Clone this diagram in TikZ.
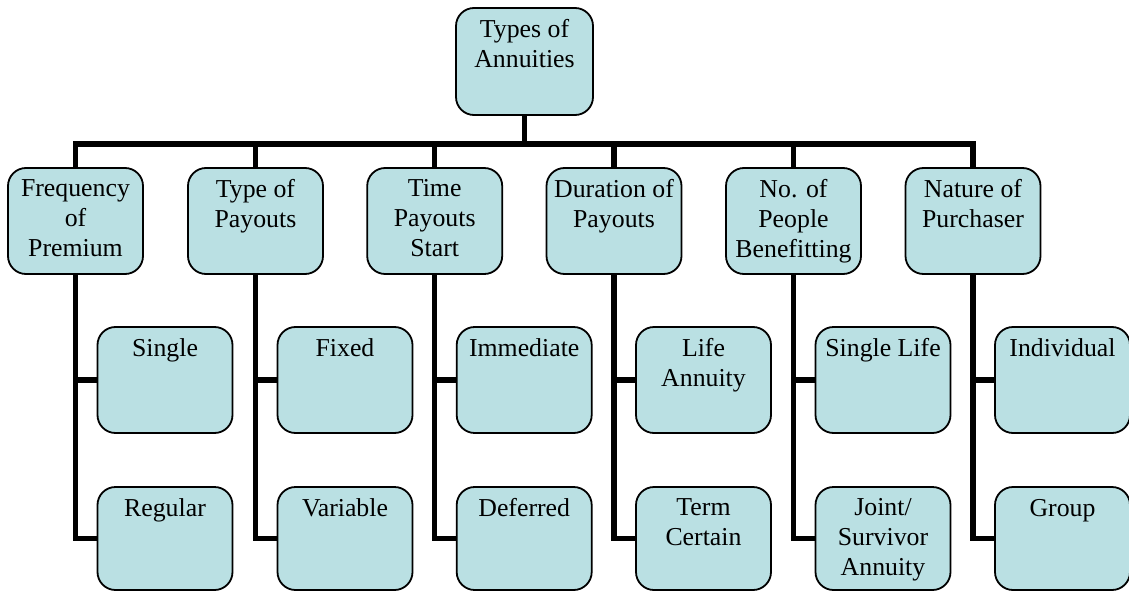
\documentclass[tikz,border=0pt]{standalone}
\usepackage{fontspec}
\setmainfont{Liberation Serif}
\usetikzlibrary{backgrounds}
\definecolor{boxfill}{RGB}{186,224,227}
\begin{document}
\begin{tikzpicture}[x=1pt,y=-1pt,
  box/.style={draw=black, line width=1.8pt, fill=boxfill, rounded corners=18pt,
    minimum width=135pt, minimum height=106pt, inner sep=0pt},
  lowbox/.style={box, minimum height=103pt},
  lbl/.style={anchor=north, align=center, inner sep=0pt,
    font=\fontsize{25.8}{30}\selectfont, execute at begin node={\rule{0pt}{18pt}}},
  conn/.style={line width=5.5pt}]
\useasboundingbox (0,0) rectangle (1129,591);

% root
\node[box, minimum width=137pt, minimum height=107pt] (root) at (524.5,61.5) {};
\node[lbl] (roott) at ([yshift=-12pt]root.north) {Types of\\Annuities};
\coordinate (bus) at (524.5,144);

% level 1
\node[box] (a) at (75.5,221) {};
\node[box] (b) at (255.5,221) {};
\node[box] (c) at (434.7,221) {};
\node[box] (d) at (614,221) {};
\node[box] (e) at (793.5,221) {};
\node[box] (f) at (973,221) {};
\node[lbl] (at) at ([yshift=-12pt]a.north) {Frequency\\of\\Premium};
\node[lbl] (bt) at ([yshift=-12pt]b.north) {Type of\\Payouts};
\node[lbl] (ct) at ([yshift=-12pt]c.north) {Time\\Payouts\\Start};
\node[lbl] (dt) at ([yshift=-12pt]d.north) {Duration of\\Payouts};
\node[lbl] (et) at ([yshift=-12pt]e.north) {No. of\\People\\Benefitting};
\node[lbl] (ft) at ([yshift=-12pt]f.north) {Nature of\\Purchaser};

% level 2
\node[box] (a1) at (165,380) {};
\node[lowbox] (a2) at (165,538.5) {};
\node[box] (b1) at (345,380) {};
\node[lowbox] (b2) at (345,538.5) {};
\node[box] (c1) at (524.2,380) {};
\node[lowbox] (c2) at (524.2,538.5) {};
\node[box] (d1) at (703.5,380) {};
\node[lowbox] (d2) at (703.5,538.5) {};
\node[box] (e1) at (883,380) {};
\node[lowbox] (e2) at (883,538.5) {};
\node[box] (f1) at (1062.5,380) {};
\node[lowbox] (f2) at (1062.5,538.5) {};
\node[lbl] (a1t) at ([yshift=-12pt]a1.north) {Single};
\node[lbl] (a2t) at ([yshift=-12pt]a2.north) {Regular};
\node[lbl] (b1t) at ([yshift=-12pt]b1.north) {Fixed};
\node[lbl] (b2t) at ([yshift=-12pt]b2.north) {Variable};
\node[lbl] (c1t) at ([yshift=-12pt]c1.north) {Immediate};
\node[lbl] (c2t) at ([yshift=-12pt]c2.north) {Deferred};
\node[lbl] (d1t) at ([yshift=-12pt]d1.north) {Life\\Annuity};
\node[lbl] (d2t) at ([yshift=-12pt]d2.north) {Term\\Certain};
\node[lbl] (e1t) at ([yshift=-12pt]e1.north) {Single Life};
\node[lbl] (e2t) at ([yshift=-12pt]e2.north) {Joint/\\Survivor\\Annuity};
\node[lbl] (f1t) at ([yshift=-12pt]f1.north) {Individual};
\node[lbl] (f2t) at ([yshift=-12pt]f2.north) {Group};

\begin{scope}[on background layer]
  \draw[conn] (root.south) -- (root.south |- bus);
  \draw[conn] (a.north) -- (a.north |- bus) -- (f.north |- bus) -- (f.north);
  \foreach \n in {b,c,d,e}{
    \draw[conn] (\n.north |- bus) -- (\n.north);
  }
  \foreach \n in {a,b,c,d,e,f}{
    \draw[conn] (\n.south) -- (\n.south |- \n2.west) -- (\n2.west);
    \draw[conn] (\n.south |- \n1.west) -- (\n1.west);
  }
\end{scope}
\end{tikzpicture}
\end{document}
